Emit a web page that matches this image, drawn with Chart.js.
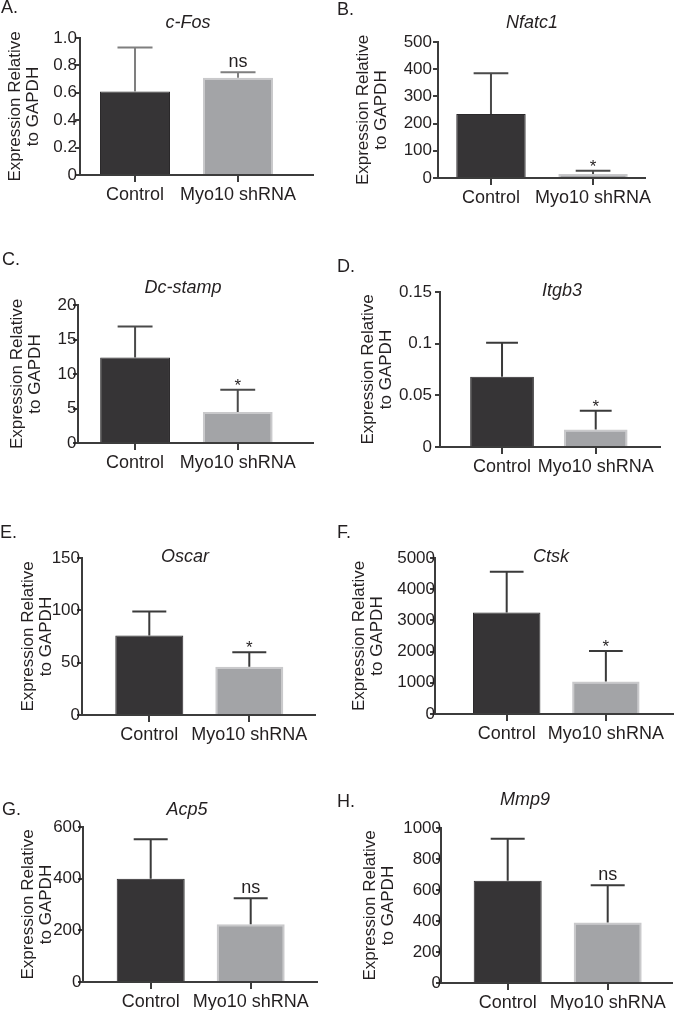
<!DOCTYPE html>
<html>
<head>
<meta charset="utf-8">
<script src="https://cdn.jsdelivr.net/npm/chart.js@4/dist/chart.umd.min.js"></script>
<style>
  body { margin: 0; background: #fff; }
  #fig { position: relative; width: 675px; height: 1010px; overflow: hidden; }
  #fig canvas { position: absolute; }
</style>
</head>
<body>
<div id="fig"></div>
<script>
const groups = ['Control', 'Myo10 shRNA'];
const genes = ['c-Fos', 'Nfatc1', 'Dc-stamp', 'Itgb3', 'Oscar', 'Ctsk', 'Acp5', 'Mmp9'];
const panelLetters = ['A.', 'B.', 'C.', 'D.', 'E.', 'F.', 'G.', 'H.'];
const controlMean = [0.61, 235, 12.4, 0.068, 76, 3250, 400, 660];
const controlSD = [0.32, 150, 4.5, 0.033, 23, 1310, 153, 270];
const shMean = [0.71, 15, 4.5, 0.017, 46, 1040, 224, 390];
const shSD = [0.04, 12, 3.2, 0.018, 14, 980, 100, 240];
const significance = ['ns', '*', '*', '*', '*', '*', 'ns', 'ns'];
const yMax = [1, 500, 20, 0.15, 150, 5000, 600, 1000];
const yStep = [0.2, 100, 5, 0.05, 50, 1000, 200, 200];
const yTickLabels = [
  ['0', '0.2', '0.4', '0.6', '0.8', '1.0'],
  ['0', '100', '200', '300', '400', '500'],
  ['0', '5', '10', '15', '20'],
  ['0', '0.05', '0.1', '0.15'],
  ['0', '50', '100', '150'],
  ['0', '1000', '2000', '3000', '4000', '5000'],
  ['0', '200', '400', '600'],
  ['0', '200', '400', '600', '800', '1000']
];

const FONT = "'Liberation Sans', Arial, Helvetica, sans-serif";
const TEXT = '#231f20';
const AXIS = '#3c3c3c';
const DARK = '#363436';
const GRAY = '#a3a4a7';

// page positions: canvas box, chart area, x range so bar centres land where they do in the figure
const layout = [
  {box: [0, 0, 335, 232],     area: [80, 38, 313, 175],   xr: [-0.534, 1.728], yTitleX: 15,  tickGap: 3,   letter: [1, 13],    title: [188, 28],  errColor: '#7f7f7f'},
  {box: [335, 0, 340, 232],   area: [438, 42, 645, 178],  xr: [-0.519, 1.509], yTitleX: 363, tickGap: 6,   letter: [337, 15],  title: [532, 28],  errColor: '#4a4a4a'},
  {box: [0, 232, 335, 253],   area: [78, 305, 313, 443],  xr: [-0.556, 1.733], yTitleX: 17,  tickGap: 1.5, letter: [2, 265],   title: [183, 293], errColor: '#4a4a4a'},
  {box: [335, 232, 340, 253], area: [440, 292, 660, 447], xr: [-0.662, 1.686], yTitleX: 368, tickGap: 8,   letter: [337, 272], title: [562, 296], errColor: '#3a3a3a'},
  {box: [0, 485, 335, 260],   area: [82, 558, 315, 715],  xr: [-0.673, 1.657], yTitleX: 28,  tickGap: 2,   letter: [0, 538],   title: [185, 562], errColor: '#3a3a3a'},
  {box: [335, 485, 340, 260], area: [435, 558, 673, 714], xr: [-0.723, 1.677], yTitleX: 359, tickGap: 0,   letter: [337, 538], title: [551, 562], errColor: '#3a3a3a'},
  {box: [0, 745, 335, 265],   area: [83, 827, 317, 982],  xr: [-0.677, 1.663], yTitleX: 28,  tickGap: 1.5, letter: [2, 815],   title: [187, 815], errColor: '#3a3a3a'},
  {box: [335, 745, 340, 265], area: [441, 828, 672, 983], xr: [-0.667, 1.643], yTitleX: 370, tickGap: 0,   letter: [337, 807], title: [525, 805], errColor: '#3a3a3a'}
];

const errorBars = {
  id: 'errorBars',
  afterDatasetsDraw(chart, args, opts) {
    const {ctx, scales: {x, y}} = chart;
    const bars = chart.getDatasetMeta(0).data;
    ctx.save();
    ctx.strokeStyle = opts.color;
    ctx.lineWidth = 2;
    let capY = 0;
    opts.means.forEach((m, i) => {
      const px = x.getPixelForValue(i);
      const yBar = y.getPixelForValue(m);
      const yTop = y.getPixelForValue(m + opts.sd[i]);
      const half = bars[i].width * 0.25;
      ctx.beginPath();
      ctx.moveTo(px, yBar);
      ctx.lineTo(px, yTop);
      ctx.moveTo(px - half, yTop);
      ctx.lineTo(px + half, yTop);
      ctx.stroke();
      capY = yTop;
    });
    // significance mark over the shRNA bar
    ctx.fillStyle = TEXT;
    ctx.textAlign = 'center';
    ctx.textBaseline = 'alphabetic';
    if (opts.sig === '*') {
      ctx.font = '17px ' + FONT;
      ctx.fillText('*', x.getPixelForValue(1), capY + 1);
    } else {
      ctx.font = '18px ' + FONT;
      ctx.fillText(opts.sig, x.getPixelForValue(1), capY - 5);
    }
    ctx.restore();
  }
};

const panelText = {
  id: 'panelText',
  afterDraw(chart, args, opts) {
    const ctx = chart.ctx;
    ctx.save();
    ctx.fillStyle = TEXT;
    ctx.textBaseline = 'alphabetic';
    ctx.textAlign = 'left';
    ctx.font = '18px ' + FONT;
    ctx.fillText(opts.letter, opts.letterPos[0], opts.letterPos[1]);
    ctx.textAlign = 'center';
    ctx.font = 'italic 18px ' + FONT;
    ctx.fillText(opts.title, opts.titlePos[0], opts.titlePos[1]);
    ctx.restore();
  }
};

const fig = document.getElementById('fig');

genes.forEach((gene, p) => {
  const L = layout[p];
  const [cx, cy, cw, ch] = L.box;
  const [al, at, ar, ab] = L.area;
  const canvas = document.createElement('canvas');
  canvas.width = cw;
  canvas.height = ch;
  canvas.style.left = cx + 'px';
  canvas.style.top = cy + 'px';
  fig.appendChild(canvas);

  new Chart(canvas, {
    type: 'bar',
    data: {
      datasets: [{
        data: [{x: 0, y: controlMean[p]}, {x: 1, y: shMean[p]}],
        backgroundColor: [DARK, GRAY],
        borderColor: ['#2b292b', '#c9c9cb'],
        borderWidth: [1, 2],
        barPercentage: 0.68,
        categoryPercentage: 1
      }]
    },
    options: {
      responsive: false,
      animation: false,
      layout: {padding: {left: 0, top: at - cy, right: cx + cw - ar, bottom: 0}},
      plugins: {
        legend: {display: false},
        tooltip: {enabled: false},
        errorBars: {means: [controlMean[p], shMean[p]], sd: [controlSD[p], shSD[p]], sig: significance[p], color: L.errColor},
        panelText: {
          letter: panelLetters[p], letterPos: [L.letter[0] - cx, L.letter[1] - cy],
          title: gene, titlePos: [L.title[0] - cx, L.title[1] - cy]
        }
      },
      scales: {
        x: {
          type: 'linear',
          bounds: 'data',
          offset: false,
          min: L.xr[0],
          max: L.xr[1],
          afterBuildTicks: s => {
            s.ticks = [{value: 0}, {value: 1}];
            s.min = L.xr[0];
            s.max = L.xr[1];
          },
          afterFit: s => { s.height = cy + ch - ab; },
          border: {display: true, color: AXIS, width: 2},
          grid: {display: true, offset: false, drawOnChartArea: false, drawTicks: true, tickLength: 7, color: AXIS, lineWidth: 2},
          ticks: {
            autoSkip: false, maxRotation: 0, padding: 2,
            color: TEXT, font: {size: 18, family: FONT},
            callback: v => groups[v]
          }
        },
        y: {
          min: 0,
          max: yMax[p],
          afterFit: s => { s.width = al - cx; },
          border: {display: true, color: AXIS, width: 2},
          grid: {display: true, drawOnChartArea: false, drawTicks: true, tickLength: 5, color: AXIS, lineWidth: 2},
          ticks: {
            stepSize: yStep[p], padding: L.tickGap - 5,
            color: TEXT, font: {size: 17, family: FONT},
            callback: (v, i) => yTickLabels[p][i]
          },
          title: {
            display: true,
            text: ['Expression Relative', 'to GAPDH'],
            color: TEXT,
            font: {size: 17, family: FONT, lineHeight: 1.1},
            padding: {top: L.yTitleX - cx - 17 * 1.1 / 2, bottom: 0}
          }
        }
      }
    },
    plugins: [errorBars, panelText]
  });
});
</script>
</body>
</html>
